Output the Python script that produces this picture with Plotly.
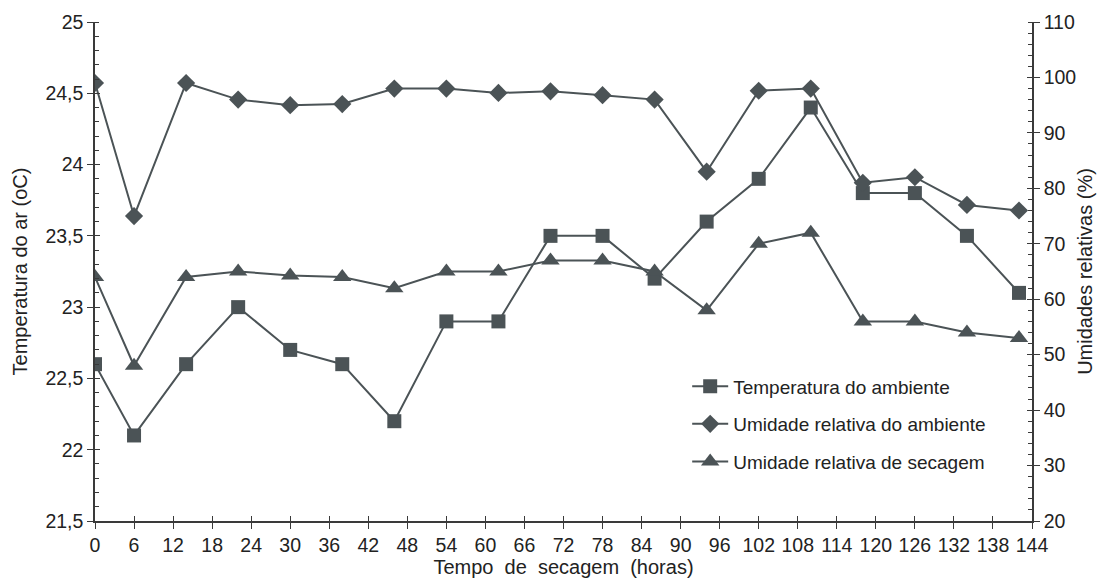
import plotly.graph_objects as go

hours = [0, 6, 14, 22, 30, 38, 46, 54, 62, 70, 78, 86, 94, 102, 110, 118, 126, 134, 142]
temp_amb = [22.6, 22.1, 22.6, 23.0, 22.7, 22.6, 22.2, 22.9, 22.9, 23.5, 23.5, 23.2, 23.6, 23.9, 24.4, 23.8, 23.8, 23.5, 23.1]
ur_amb = [99, 75, 99, 96, 95, 95.2, 98, 98, 97.2, 97.5, 96.8, 96, 83, 97.6, 98, 81, 82, 77, 76]
ur_sec = [64, 48, 64, 65, 64.3, 64, 62, 65, 65, 67, 67, 65, 58, 70, 72, 56, 56, 54, 53]

x_ticks = list(range(0, 145, 6))
left_ticks = [21.5, 22, 22.5, 23, 23.5, 24, 24.5, 25]
left_labels = ["21,5", "22", "22,5", "23", "23,5", "24", "24,5", "25"]
right_ticks = list(range(20, 111, 10))

names = ["Temperatura do ambiente", "Umidade relativa do ambiente", "Umidade relativa de secagem"]

C = "#4b5356"
AX = "#3a3a3a"
FONT = "Liberation Sans, Arial, sans-serif"
TXT = "#222"

fig = go.Figure()
fig.add_trace(go.Scatter(x=hours, y=temp_amb, name=names[0], mode="lines+markers",
                         line=dict(color=C, width=2), legendgroup="a",
                         marker=dict(symbol="square", size=14, color=C), yaxis="y"))
fig.add_trace(go.Scatter(x=hours, y=ur_amb, name=names[1], mode="lines+markers",
                         line=dict(color=C, width=2), legendgroup="b",
                         marker=dict(symbol="diamond", size=14, color=C), yaxis="y2"))
fig.add_trace(go.Scatter(x=hours, y=ur_sec, name=names[2], mode="lines+markers",
                         line=dict(color=C, width=2), legendgroup="c",
                         marker=dict(symbol="triangle-up", size=16, color=C), yaxis="y2"))
# invisible helpers for the inside half of crossing major ticks
fig.add_trace(go.Scatter(x=[None], y=[None], xaxis="x2", yaxis="y3", showlegend=False, hoverinfo="skip"))
fig.add_trace(go.Scatter(x=[None], y=[None], xaxis="x", yaxis="y4", showlegend=False, hoverinfo="skip"))

tickfont = dict(family=FONT, size=19.5, color=TXT)
titlefont = dict(family=FONT, size=20, color=TXT)

fig.update_layout(
    width=1099, height=581,
    margin=dict(l=95, r=67, t=22, b=60),
    paper_bgcolor="white", plot_bgcolor="white",
    font=dict(family=FONT, size=19, color=TXT),
    showlegend=True,
    legend=dict(x=0.632, y=0.308, xanchor="left", yanchor="top",
                font=dict(family=FONT, size=19, color=TXT),
                traceorder="grouped", tracegroupgap=10, itemwidth=36,
                bgcolor="rgba(0,0,0,0)"),
    xaxis=dict(range=[0, 144], tickvals=x_ticks, ticktext=[str(v) for v in x_ticks],
               automargin=False,
               showgrid=False, zeroline=False, showline=True, linecolor=AX, linewidth=1.5,
               ticks="outside", ticklen=6, tickcolor=AX, tickwidth=1.2, tickfont=tickfont,
               title=dict(text="Tempo\u00a0 de\u00a0 secagem\u00a0 (horas)", font=titlefont, standoff=0)),
    xaxis2=dict(range=[0, 144], tickvals=x_ticks, overlaying="x", side="bottom", anchor="y",
                automargin=False,
                showticklabels=False, showgrid=False, zeroline=False, showline=False,
                ticks="inside", ticklen=5, tickcolor=AX, tickwidth=1.2),
    yaxis=dict(range=[21.5, 25], tickvals=left_ticks, ticktext=left_labels,
               automargin=False,
               showgrid=False, zeroline=False, showline=True, linecolor=AX, linewidth=1.5,
               ticks="outside", ticklen=6, tickcolor=AX, tickwidth=1.2, tickfont=tickfont,
               minor=dict(dtick=0.1, ticks="inside", ticklen=4, tickcolor=AX, tickwidth=1),
               title=dict(text="Temperatura do ar (oC)", font=titlefont, standoff=12)),
    yaxis3=dict(range=[21.5, 25], tickvals=left_ticks, overlaying="y", side="left", anchor="x",
                automargin=False,
                showticklabels=False, showgrid=False, zeroline=False, showline=False,
                ticks="inside", ticklen=5, tickcolor=AX, tickwidth=1.2),
    yaxis2=dict(range=[20, 110], tickvals=right_ticks, overlaying="y", side="right", anchor="x",
                automargin=False,
                showgrid=False, zeroline=False, showline=True, linecolor=AX, linewidth=1.5,
                ticks="outside", ticklen=6, tickcolor=AX, tickwidth=1.2, tickfont=tickfont,
                minor=dict(dtick=2, ticks="inside", ticklen=4, tickcolor=AX, tickwidth=1),
                title=dict(text="Umidades relativas (%)", font=titlefont, standoff=3)),
    yaxis4=dict(range=[20, 110], tickvals=right_ticks, overlaying="y", side="right", anchor="x",
                automargin=False,
                showticklabels=False, showgrid=False, zeroline=False, showline=False,
                ticks="inside", ticklen=5, tickcolor=AX, tickwidth=1.2),
)

fig.write_html("out.html")
